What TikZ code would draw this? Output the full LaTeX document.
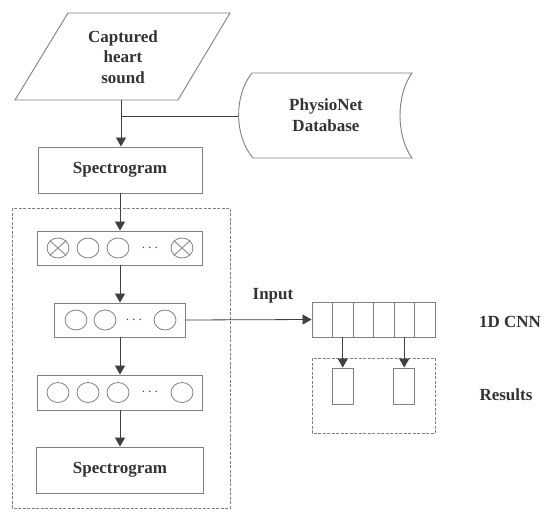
\documentclass[tikz,border=0pt]{standalone}
\usepackage{fontspec}
\setmainfont{Liberation Serif}
\newfontfamily\tnr{Liberation Serif}
\usetikzlibrary{arrows.meta,shapes.geometric}
\definecolor{boxline}{gray}{0.5}
\definecolor{txt}{gray}{0.2}
\definecolor{conn}{gray}{0.25}
\begin{document}
\begin{tikzpicture}[x=1pt,y=-1pt,
  every node/.style={font=\tnr\fontsize{17}{20.5}\selectfont\bfseries, text=txt},
  box/.style={draw=boxline, line width=0.9pt, rectangle, inner sep=0pt},
  unit/.style={draw=boxline, line width=0.8pt, ellipse, minimum width=22pt, minimum height=20pt, inner sep=0pt},
  cell/.style={draw=boxline, line width=0.9pt, rectangle, minimum width=20.5pt, minimum height=35pt, inner sep=0pt},
  outline/.style={draw=boxline, line width=0.9pt},
  dashbox/.style={draw=boxline, line width=0.9pt, dash pattern=on 3pt off 1.5pt},
  arr/.style={draw=conn, line width=0.8pt, -{Triangle[length=9pt,width=10pt]}},
  ln/.style={draw=conn, line width=0.8pt},
  dots/.style={font=\fontsize{14}{14}\selectfont, text=txt}]
\useasboundingbox (0,0) rectangle (545,511);

% dashed groups
\draw[dashbox] (12,208) rectangle (230,508);
\draw[dashbox] (312,358) rectangle (435,433);

% parallelogram input
\draw[outline] (68,13) -- (230,13) -- (178,100) -- (15,100) -- cycle;
\node[align=center] (cap) at (123,57) {Captured\\heart\\sound};
\coordinate (capb) at (121,100);

% PhysioNet stored data
\draw[outline] (252,73) -- (412,73) .. controls (396,95) and (396,136) .. (412,158)
  -- (253,158) .. controls (234,136) and (234,95) .. (252,73);
\node[align=center] (db) at (326,115) {PhysioNet\\Database};
\coordinate (dbw) at (238,116);
\coordinate (junc) at (121,116);

% main column
\node[box, minimum width=164pt, minimum height=46pt] (s1) at (120,170) {Spectrogram};
\node[box, minimum width=165pt, minimum height=34pt] (l1) at (120,248) {};
\node[box, minimum width=131pt, minimum height=34pt] (l2) at (120,320) {};
\node[box, minimum width=165pt, minimum height=35pt] (l3) at (120,392.5) {};
\node[box, minimum width=167pt, minimum height=46pt] (s2) at (120,470) {Spectrogram};

% layer 1 units
\node[unit] (a1) at (58,248) {};
\node[unit] (a2) at (88,248) {};
\node[unit] (a3) at (118,248) {};
\node[dots] (ad) at (150,248) {$\cdots$};
\node[unit] (a5) at (182,248) {};
\foreach \n in {a1,a5}{
  \draw[boxline, line width=0.8pt] (\n.north west) -- (\n.south east);
  \draw[boxline, line width=0.8pt] (\n.north east) -- (\n.south west);
}
% layer 2 units
\node[unit] (b1) at (76,320) {};
\node[unit] (b2) at (105,320) {};
\node[dots] (bd) at (134,320) {$\cdots$};
\node[unit] (b4) at (165,320) {};
% layer 3 units
\node[unit] (c1u) at (58,392.5) {};
\node[unit] (c2u) at (88,392.5) {};
\node[unit] (c3u) at (118,392.5) {};
\node[dots] (cd) at (150,392.5) {$\cdots$};
\node[unit] (c5u) at (182,392.5) {};

% 1D CNN strip
\foreach \i in {1,...,6}{
  \node[cell] (k\i) at ({312+20.5*(\i-0.5)},319.5) {};
}
\node[box, minimum width=21pt, minimum height=36pt] (r1) at (342.75,386) {};
\node[box, minimum width=21pt, minimum height=36pt] (r2) at (404.25,386) {};

% labels
\node (inp) at (273,296) {Input};
\node (cnn) at (510,322) {1D CNN};
\node (res) at (506,395) {Results};

% connectors
\draw[ln] (capb) -- (junc);
\draw[ln] (dbw) -- (junc);
\draw[arr] (junc) -- (junc |- s1.north);
\draw[arr] (s1.south) -- (l1.north);
\draw[arr] (l1.south) -- (l2.north);
\draw[arr] (l2.south) -- (l3.north);
\draw[arr] (l3.south) -- (s2.north);
\draw[arr] (l2.east) -- (k1.west);
\draw[arr] (k2.south) -- (r1.north);
\draw[arr] (k5.south) -- (r2.north);
\end{tikzpicture}
\end{document}
